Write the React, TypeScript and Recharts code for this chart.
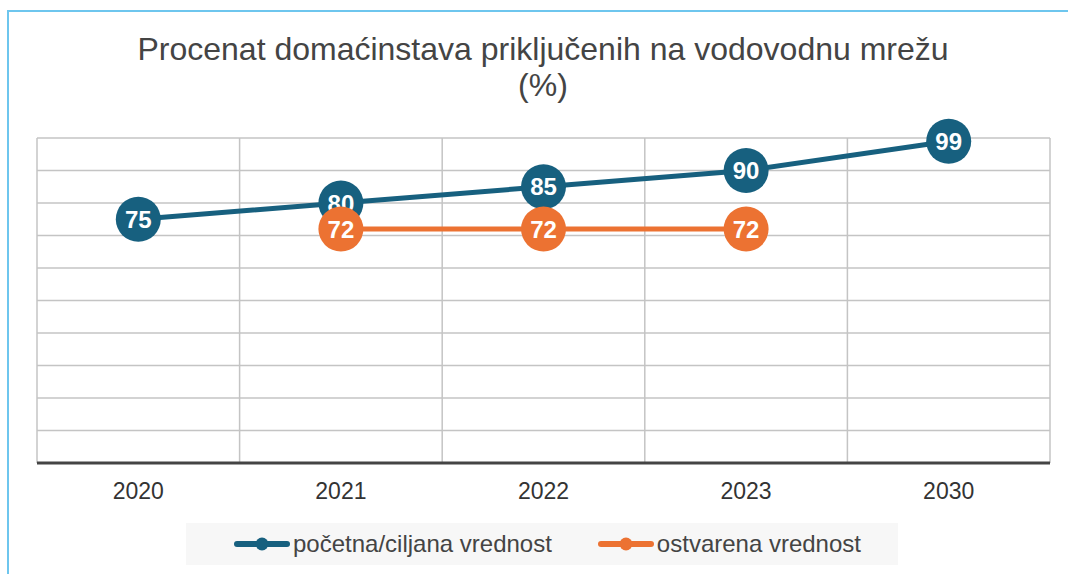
import { CartesianGrid, Line, LineChart, XAxis, YAxis } from "recharts";

const years = ["2020", "2021", "2022", "2023", "2030"];
const targetValues = [75, 80, 85, 90, 99];
const achievedValues: (number | null)[] = [null, 72, 72, 72, null];
const yTicks = [0, 10, 20, 30, 40, 50, 60, 70, 80, 90, 100];

const seriesNames = ["početna/ciljana vrednost", "ostvarena vrednost"];
const BLUE = "#17607f";
const ORANGE = "#ec7232";

const data = years.map((year, i) => ({
  year,
  target: targetValues[i],
  achieved: achievedValues[i],
}));

const font = '"Liberation Sans", Arial, sans-serif';

function makeDot(color: string) {
  return (props: any) => {
    const { cx, cy, value, index } = props;
    if (cx == null || cy == null || value == null) return <g key={`d-${index}`} />;
    return (
      <g key={`d-${index}`}>
        <circle cx={cx} cy={cy} r={22.5} fill={color} />
        <text
          x={cx}
          y={cy}
          dy="0.36em"
          textAnchor="middle"
          fill="#fff"
          fontSize={24}
          fontWeight={700}
          fontFamily={font}
        >
          {value}
        </text>
      </g>
    );
  };
}

function LegendIcon({ color }: { color: string }) {
  return (
    <svg width={58} height={14} style={{ marginRight: 2 }}>
      <line x1={4} y1={7} x2={54} y2={7} stroke={color} strokeWidth={6} strokeLinecap="round" />
      <circle cx={29} cy={7} r={6.5} fill={color} />
    </svg>
  );
}

export default function App() {
  return (
    <div
      style={{
        position: "absolute",
        left: 0,
        top: 0,
        width: 1068,
        height: 574,
        background: "#fff",
        fontFamily: font,
        overflow: "hidden",
      }}
    >
      <div
        style={{
          position: "absolute",
          left: 7,
          top: 10,
          right: 0,
          bottom: 0,
          borderLeft: "2px solid #6ec6ee",
          borderTop: "2px solid #6ec6ee",
        }}
      />
      <div
        style={{
          position: "absolute",
          left: 0,
          top: 31,
          width: 1086,
          textAlign: "center",
          fontSize: 32,
          lineHeight: "36px",
          color: "#444",
        }}
      >
        Procenat domaćinstava priključenih na vodovodnu mrežu
        <br />
        (%)
      </div>

      <div style={{ position: "absolute", left: 0, top: 0 }}>
        <LineChart
          width={1068}
          height={574}
          data={data}
          margin={{ top: 138, right: 18, left: 37, bottom: 81 }}
        >
          <CartesianGrid
            stroke="#c4c4c4"
            strokeWidth={1.5}
            verticalCoordinatesGenerator={({ offset }: any) =>
              Array.from({ length: years.length + 1 }, (_, i) => offset.left + (i * offset.width) / years.length)
            }
          />
          <XAxis
            dataKey="year"
            scale="band"
            tickLine={false}
            tickSize={0}
            tickMargin={20}
            axisLine={{ stroke: "#444", strokeWidth: 3 }}
            tick={{ fill: "#333", fontSize: 23, fontFamily: font }}
          />
          <YAxis hide domain={[0, 100]} ticks={yTicks} width={0} />
          <Line
            dataKey="target"
            stroke={BLUE}
            strokeWidth={5}
            dot={makeDot(BLUE)}
            activeDot={false}
            isAnimationActive={false}
          />
          <Line
            dataKey="achieved"
            stroke={ORANGE}
            strokeWidth={5}
            dot={makeDot(ORANGE)}
            activeDot={false}
            isAnimationActive={false}
          />
        </LineChart>
      </div>

      <div
        style={{
          position: "absolute",
          left: 186,
          top: 523,
          width: 712,
          height: 42,
          boxSizing: "border-box",
          paddingLeft: 10,
          background: "#f7f7f7",
          display: "flex",
          alignItems: "center",
          justifyContent: "center",
          fontSize: 24,
          color: "#444",
        }}
      >
        <span style={{ display: "flex", alignItems: "center", marginRight: 45 }}>
          <LegendIcon color={BLUE} />
          {seriesNames[0]}
        </span>
        <span style={{ display: "flex", alignItems: "center" }}>
          <LegendIcon color={ORANGE} />
          {seriesNames[1]}
        </span>
      </div>
    </div>
  );
}
